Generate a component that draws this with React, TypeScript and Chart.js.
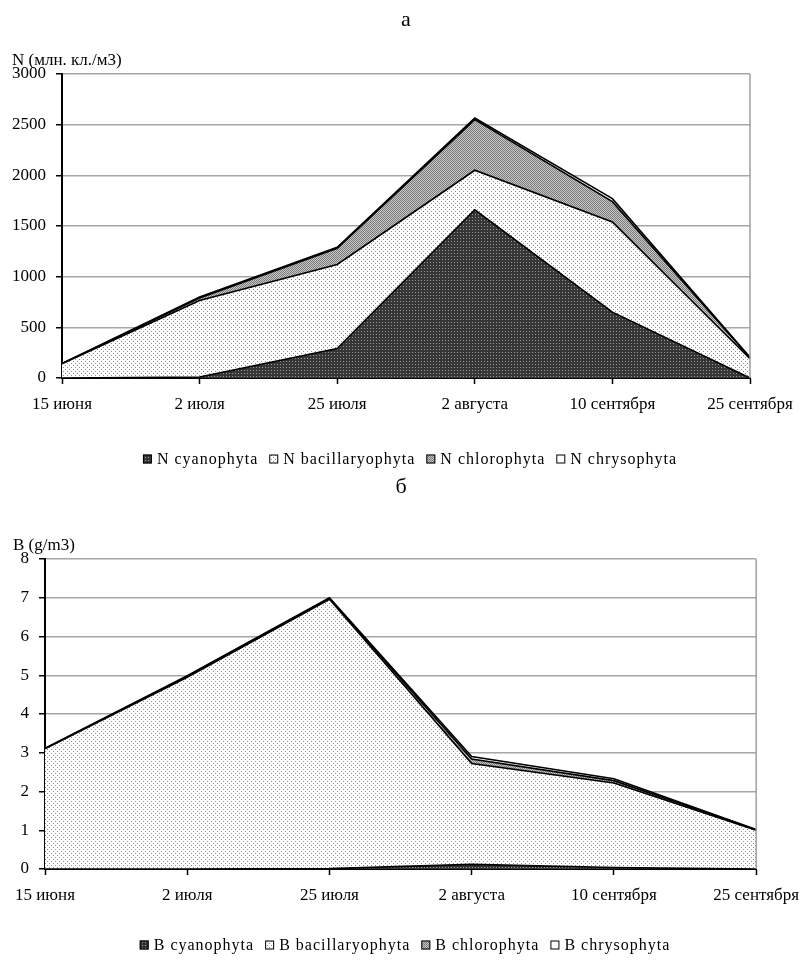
import React, { useEffect, useRef } from "react";
import { Chart, registerables } from "chart.js";

Chart.register(...registerables);

// ---------- data ----------
const categories = ["15 июня", "2 июля", "25 июля", "2 августа", "10 сентября", "25 сентября"];

const nLabels = ["N cyanophyta", "N bacillaryophyta", "N chlorophyta", "N chrysophyta"];
const nCyanophyta = [0, 10, 290, 1660, 650, 0];
const nBacillaryophyta = [140, 755, 830, 390, 890, 190];
const nChlorophyta = [0, 25, 160, 500, 200, 10];
const nChrysophyta = [3, 10, 10, 15, 30, 5];
const nAxisMax = 3000;
const nAxisStep = 500;

const bLabels = ["B cyanophyta", "B bacillaryophyta", "B chlorophyta", "B chrysophyta"];
const bCyanophyta = [0, 0, 0.01, 0.12, 0.04, 0];
const bBacillaryophyta = [3.1, 4.95, 6.95, 2.6, 2.18, 1.0];
const bChlorophyta = [0, 0.02, 0.02, 0.12, 0.06, 0.01];
const bChrysophyta = [0.02, 0.02, 0.02, 0.06, 0.05, 0.01];
const bAxisMax = 8;
const bAxisStep = 1;

const FONT = "'Liberation Serif', 'Times New Roman', serif";

// ---------- patterns ----------
function makePattern(size: number, bg: string, dots: Array<[number, number, string]>) {
  const c = document.createElement("canvas");
  c.width = size;
  c.height = size;
  const g = c.getContext("2d")!;
  g.fillStyle = bg;
  g.fillRect(0, 0, size, size);
  dots.forEach(([x, y, col]) => {
    g.fillStyle = col;
    g.fillRect(x, y, 1, 1);
  });
  const ref = document.createElement("canvas").getContext("2d")!;
  return ref.createPattern(c, "repeat") as CanvasPattern;
}

function getFills() {
  return [
    makePattern(3, "#363636", [[1, 1, "#9a9a9a"]]),
    makePattern(4, "#ffffff", [[1, 1, "#8a8a8a"], [3, 3, "#8a8a8a"]]),
    makePattern(2, "#c8c8c8", [[0, 0, "#7a7a7a"], [1, 1, "#7a7a7a"]]),
    "#ffffff",
  ];
}

// ---------- decoration plugin ----------
const decorPlugin = {
  id: "decor",
  afterDraw(chart: any, _args: any, opts: any) {
    const ctx = chart.ctx as CanvasRenderingContext2D;
    const area = chart.chartArea;
    ctx.save();
    // right border of plot
    ctx.strokeStyle = "#a0a0a0";
    ctx.lineWidth = 1.5;
    ctx.beginPath();
    ctx.moveTo(area.right, area.top);
    ctx.lineTo(area.right, area.bottom);
    ctx.stroke();

    ctx.fillStyle = "#000";
    // title
    ctx.font = `${opts.titleSize}px ${FONT}`;
    ctx.textAlign = "center";
    ctx.textBaseline = "middle";
    ctx.fillText(opts.title, opts.titleX, opts.titleY);
    // y axis title
    ctx.font = `${opts.yTitleSize}px ${FONT}`;
    ctx.textAlign = "left";
    ctx.fillText(opts.yTitle, opts.yTitleX, opts.yTitleY);

    // legend
    ctx.font = `${opts.legendSize}px ${FONT}`;
    (ctx as any).letterSpacing = "1px";
    const box = 9;
    const gapBoxText = 5;
    const gapItems = 11;
    const items = chart.data.datasets.map((d: any) => ({
      label: d.label as string,
      fill: d.backgroundColor,
      w: box + gapBoxText + ctx.measureText(d.label).width,
    }));
    const total = items.reduce((s: number, it: any) => s + it.w, 0) + gapItems * (items.length - 1);
    let x = opts.legendCX - total / 2;
    const y = opts.legendY;
    items.forEach((it: any) => {
      ctx.fillStyle = it.fill;
      ctx.fillRect(x, y - box / 2, box, box);
      ctx.strokeStyle = "#000";
      ctx.lineWidth = 1;
      ctx.strokeRect(x + 0.5, y - box / 2 + 0.5, box - 1, box - 1);
      ctx.fillStyle = "#000";
      ctx.textAlign = "left";
      ctx.textBaseline = "middle";
      ctx.fillText(it.label, x + box + gapBoxText, y + 1);
      x += it.w + gapItems;
    });
    ctx.restore();
  },
};

type Cfg = {
  labels: string[];
  series: number[][];
  max: number;
  step: number;
  left: number;
  right: number;
  top: number;
  bottom: number;
  height: number;
  decor: any;
};

function StackChart({ cfg }: { cfg: Cfg }) {
  const ref = useRef<HTMLCanvasElement | null>(null);
  useEffect(() => {
    if (!ref.current) return;
    const fills = getFills();
    const xAxisH = 40;
    const chart = new Chart(ref.current, {
      type: "line",
      data: {
        labels: categories,
        datasets: cfg.series.map((s, i) => ({
          label: cfg.labels[i],
          data: s,
          fill: i === 0 ? "origin" : "-1",
          backgroundColor: fills[i] as any,
          borderColor: "#000",
          borderWidth: 1.6,
          pointRadius: 0,
          tension: 0,
        })),
      },
      options: {
        animation: false,
        responsive: false,
        maintainAspectRatio: false,
        layout: {
          padding: {
            left: 0,
            top: cfg.top,
            right: 809 - cfg.right,
            bottom: cfg.height - cfg.bottom - xAxisH,
          },
        },
        plugins: {
          legend: { display: false },
          tooltip: { enabled: false },
          title: { display: false },
          decor: cfg.decor,
        } as any,
        scales: {
          x: {
            type: "category",
            offset: false,
            grid: {
              display: true,
              drawOnChartArea: false,
              drawTicks: true,
              tickLength: 6,
              tickColor: "#000",
              tickWidth: 1.5,
            },
            border: { display: true, color: "#000", width: 2 },
            ticks: {
              color: "#000",
              font: { family: FONT, size: 17 },
              padding: 10,
              maxRotation: 0,
              autoSkip: false,
            },
            afterFit: (s: any) => {
              s.height = xAxisH;
            },
          },
          y: {
            stacked: true,
            min: 0,
            max: cfg.max,
            ticks: {
              stepSize: cfg.step,
              color: "#000",
              font: { family: FONT, size: 17 },
              padding: 10,
              callback: (v: any) => String(v),
            },
            grid: {
              color: "#a6a6a6",
              lineWidth: 1.5,
              tickLength: 6,
              tickColor: "#000",
              tickWidth: 1.5,
            },
            border: { display: true, color: "#000", width: 2 },
            afterFit: (s: any) => {
              s.width = cfg.left;
            },
          },
        },
      },
      plugins: [decorPlugin],
    } as any);
    return () => chart.destroy();
  }, [cfg]);
  return <canvas ref={ref} width={809} height={cfg.height} style={{ display: "block", width: 809, height: cfg.height }} />;
}

const topCfg: Cfg = {
  labels: nLabels,
  series: [nCyanophyta, nBacillaryophyta, nChlorophyta, nChrysophyta],
  max: nAxisMax,
  step: nAxisStep,
  left: 62,
  right: 750,
  top: 74,
  bottom: 378,
  height: 470,
  decor: {
    title: "а",
    titleX: 406,
    titleY: 20,
    titleSize: 22,
    yTitle: "N (млн. кл./м3)",
    yTitleX: 12,
    yTitleY: 61,
    yTitleSize: 17,
    legendCX: 410,
    legendY: 459,
    legendSize: 16,
  },
};

const bottomCfg: Cfg = {
  labels: bLabels,
  series: [bCyanophyta, bBacillaryophyta, bChlorophyta, bChrysophyta],
  max: bAxisMax,
  step: bAxisStep,
  left: 45,
  right: 757,
  top: 89,
  bottom: 399,
  height: 491,
  decor: {
    title: "б",
    titleX: 401,
    titleY: 17,
    titleSize: 22,
    yTitle: "B (g/m3)",
    yTitleX: 13,
    yTitleY: 76,
    yTitleSize: 17,
    legendCX: 405,
    legendY: 475,
    legendSize: 16,
  },
};

export default function App() {
  return (
    <div style={{ position: "absolute", left: 0, top: 0, width: 809, height: 961, background: "#fff" }}>
      <StackChart cfg={topCfg} />
      <StackChart cfg={bottomCfg} />
    </div>
  );
}
